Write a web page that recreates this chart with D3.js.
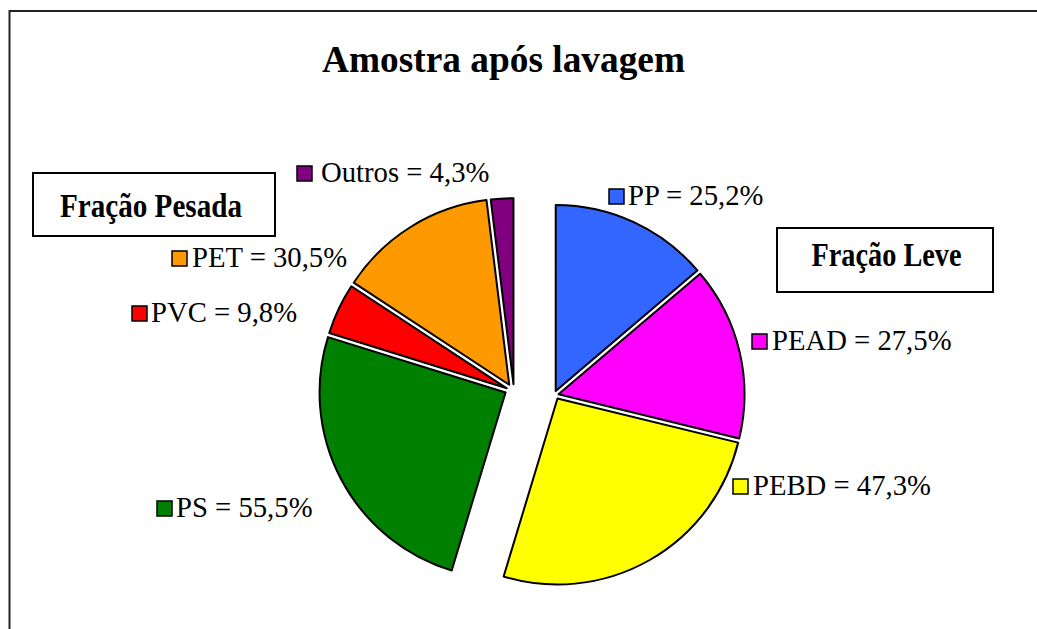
<!DOCTYPE html>
<html><head><meta charset="utf-8">
<script src="https://cdn.jsdelivr.net/npm/d3@7"></script>
<style>html,body{margin:0;padding:0;background:#fff;} svg{display:block;}</style>
</head><body>
<svg id="chart" width="1037" height="629"></svg>
<script>
// ---- data ----
const chartTitle = "Amostra após lavagem";
const groupNames = ["Fração Leve", "Fração Pesada"];
const groupShares = [54.7, 45.3];            // share of the whole pie (%)
const lightLabels = ["PP", "PEAD", "PEBD"];
const lightValues = [25.2, 27.5, 47.3];      // % within Fração Leve
const heavyLabels = ["PS", "PVC", "PET", "Outros"];
const heavyValues = [55.5, 9.8, 30.5, 4.3];  // % within Fração Pesada
const sliceColors = {PP:"#3366FF", PEAD:"#FF00FF", PEBD:"#FFFF00", PS:"#008000", PVC:"#FF0000", PET:"#FF9900", Outros:"#800080"};

// ---- layout ----
const FONT = "'Liberation Serif','Times New Roman',serif";
const C = {x:533, y:391};
const R = 186;
const groupExplode = 24.5;
const sliceGap = 4.3;
const labelLayout = {
  PP:    {sx:609, tx:628, y:205},
  PEAD:  {sx:752, tx:772, y:350},
  PEBD:  {sx:733, tx:753, y:495},
  PS:    {sx:157, tx:176, y:517},
  PVC:   {sx:132, tx:151, y:322},
  PET:   {sx:172, tx:192, y:267},
  Outros:{sx:297, tx:321, y:182}
};
const boxLayout = [
  {x:777, y:228, w:216, h:64, tx:886.5, ty:266, tl:150},
  {x:33,  y:173, w:242, h:63, tx:151,   ty:216.5, tl:182}
];

const svg = d3.select("#chart");

// outer frame
svg.append("rect").attr("x",9.5).attr("y",11).attr("width",1200).attr("height",800)
  .attr("fill","none").attr("stroke","#222").attr("stroke-width",2);

// title
svg.append("text").attr("x",503.5).attr("y",72).attr("text-anchor","middle")
  .attr("font-family",FONT).attr("font-weight","bold").attr("font-size",38)
  .attr("textLength",363).attr("lengthAdjust","spacingAndGlyphs")
  .text(chartTitle);

// slices
const slices = [];
lightLabels.forEach((n,i)=>slices.push({name:n, group:0, pct:lightValues[i], value:lightValues[i]*groupShares[0]}));
heavyLabels.forEach((n,i)=>slices.push({name:n, group:1, pct:heavyValues[i], value:heavyValues[i]*groupShares[1]}));

const pie = d3.pie().sort(null).value(d=>d.value).startAngle(0).endAngle(2*Math.PI);
const arcs = pie(slices);
const arcGen = d3.arc().innerRadius(0).outerRadius(R);

const dir = a => [Math.sin(a), -Math.cos(a)];

[0,1].forEach(g=>{
  const ga = arcs.filter(a=>a.data.group===g);
  const mid = (ga[0].startAngle + ga[ga.length-1].endAngle)/2;
  const go = dir(mid).map(v=>v*groupExplode);
  // per-slice translations giving parallel gaps
  const t = [[0,0]];
  for (let i=1;i<ga.length;i++){
    const b = ga[i-1].endAngle;
    const n = dir(b + Math.PI/2);
    t.push([t[i-1][0]+sliceGap*n[0], t[i-1][1]+sliceGap*n[1]]);
  }
  const mx = d3.mean(t,d=>d[0]), my = d3.mean(t,d=>d[1]);
  ga.forEach((a,i)=>{
    a.tx = C.x + go[0] + t[i][0] - mx;
    a.ty = C.y + go[1] + t[i][1] - my;
  });
});

svg.append("g").selectAll("path").data(arcs).join("path")
  .attr("transform",d=>`translate(${d.tx},${d.ty})`)
  .attr("d",arcGen)
  .attr("fill",d=>sliceColors[d.data.name])
  .attr("stroke","#000").attr("stroke-width",2).attr("stroke-linejoin","round");

// labels
const lab = svg.append("g").selectAll("g").data(arcs).join("g");
lab.append("rect")
  .attr("x",d=>labelLayout[d.data.name].sx)
  .attr("y",d=>labelLayout[d.data.name].y-16)
  .attr("width",15).attr("height",15)
  .attr("fill",d=>sliceColors[d.data.name])
  .attr("stroke","#000").attr("stroke-width",1.5);
lab.append("text")
  .attr("x",d=>labelLayout[d.data.name].tx)
  .attr("y",d=>labelLayout[d.data.name].y)
  .attr("font-family",FONT).attr("font-size",28.7).attr("fill","#000")
  .text(d=>`${d.data.name} = ${d.data.pct.toFixed(1).replace(".",",")}%`);

// group boxes
groupNames.forEach((name,i)=>{
  const b = boxLayout[i];
  svg.append("rect").attr("x",b.x).attr("y",b.y).attr("width",b.w).attr("height",b.h)
    .attr("fill","#fff").attr("stroke","#000").attr("stroke-width",2);
  svg.append("text").attr("x",b.tx).attr("y",b.ty).attr("text-anchor","middle")
    .attr("font-family",FONT).attr("font-weight","bold").attr("font-size",33)
    .attr("textLength",b.tl).attr("lengthAdjust","spacingAndGlyphs")
    .text(name);
});
</script>
</body></html>
